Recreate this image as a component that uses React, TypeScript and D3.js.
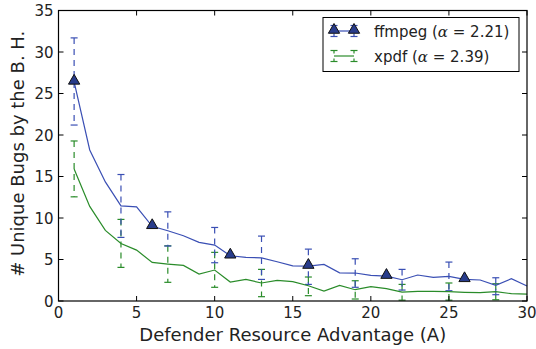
import React, { useRef, useEffect } from "react";
import * as d3 from "d3";

// x positions 1..30
const xs = d3.range(1, 31);

const ffmpegMean = [
  26.4, 18.2, 14.35, 11.46, 11.34, 9.0, 8.46, 7.86, 7.06, 6.74,
  5.45, 5.25, 5.2, 4.73, 4.23, 4.21, 4.41, 3.4, 3.37, 3.09,
  3.0, 2.56, 3.13, 2.85, 2.97, 2.61, 2.53, 1.89, 2.68, 1.8,
];
const xpdfMean = [
  15.9, 11.4, 8.5, 6.93, 6.13, 4.65, 4.45, 4.29, 3.25, 3.73,
  2.29, 2.6, 2.17, 2.49, 2.33, 1.84, 1.2, 1.89, 1.36, 1.72,
  1.48, 1.08, 1.17, 1.17, 1.12, 1.05, 1.0, 1.12, 0.88, 0.84,
];

// error bars at every third point
const errX = [1, 4, 7, 10, 13, 16, 19, 22, 25, 28];
const ffmpegLow = [21.2, 7.66, 6.62, 4.61, 2.6, 2.0, 1.65, 1.32, 1.24, 0.76];
const ffmpegHigh = [31.7, 15.24, 10.74, 8.86, 7.82, 6.25, 5.09, 3.81, 4.69, 2.8];
const xpdfLow = [12.55, 4.05, 2.25, 1.65, 0.52, 0.64, 0.24, 0.1, 0.1, 0.15];
const xpdfHigh = [19.28, 9.83, 6.65, 5.86, 3.81, 2.89, 2.44, 2.0, 2.17, 2.08];

const markerX = [1, 6, 11, 16, 21, 26];

const xTicks = [0, 5, 10, 15, 20, 25, 30];
const yTicks = [0, 5, 10, 15, 20, 25, 30, 35];

const BLUE = "#3a4fb4";
const NAVY = "#283c8c";
const GREEN = "#2a8c2a";

const App: React.FC = () => {
  const svgRef = useRef<SVGSVGElement | null>(null);

  useEffect(() => {
    if (!svgRef.current) return;
    const svg = d3.select(svgRef.current);
    svg.selectAll("*").remove();

    const left = 58.5, right = 527, top = 10.5, bottom = 301;
    const x = d3.scaleLinear().domain([0, 30]).range([left, right]);
    const y = d3.scaleLinear().domain([0, 35]).range([bottom, top]);
    const font = "DejaVu Sans, sans-serif";

    const line = d3.line<number>().x((_, i) => x(xs[i])).y((d) => y(d));

    const g = svg.append("g");

    const drawErr = (low: number[], high: number[], color: string) => {
      errX.forEach((xv, i) => {
        const px = x(xv);
        g.append("line")
          .attr("x1", px).attr("x2", px)
          .attr("y1", y(high[i])).attr("y2", y(low[i]))
          .attr("stroke", color).attr("stroke-width", 1.2)
          .attr("stroke-dasharray", "6,5");
        [low[i], high[i]].forEach((v) => {
          g.append("line")
            .attr("x1", px - 3.5).attr("x2", px + 3.5)
            .attr("y1", y(v)).attr("y2", y(v))
            .attr("stroke", color).attr("stroke-width", 1.2);
        });
      });
    };

    drawErr(xpdfLow, xpdfHigh, GREEN);
    drawErr(ffmpegLow, ffmpegHigh, BLUE);

    g.append("path").attr("d", line(xpdfMean)!)
      .attr("fill", "none").attr("stroke", GREEN).attr("stroke-width", 1.2);
    g.append("path").attr("d", line(ffmpegMean)!)
      .attr("fill", "none").attr("stroke", BLUE).attr("stroke-width", 1.2);

    const tri = d3.symbol().type(d3.symbolTriangle).size(55);
    markerX.forEach((xv) => {
      g.append("path")
        .attr("d", tri()!)
        .attr("transform", `translate(${x(xv)},${y(ffmpegMean[xv - 1]) - 1})`)
        .attr("fill", NAVY).attr("stroke", "#111").attr("stroke-width", 1);
    });

    // frame
    svg.append("rect")
      .attr("x", left).attr("y", top)
      .attr("width", right - left).attr("height", bottom - top)
      .attr("fill", "none").attr("stroke", "#000").attr("stroke-width", 1.2);

    // ticks (inward, all sides)
    const tl = 5;
    xTicks.forEach((t) => {
      const px = x(t);
      svg.append("line").attr("x1", px).attr("x2", px).attr("y1", bottom).attr("y2", bottom - tl).attr("stroke", "#000");
      svg.append("line").attr("x1", px).attr("x2", px).attr("y1", top).attr("y2", top + tl).attr("stroke", "#000");
      svg.append("text").attr("x", px).attr("y", bottom + 17)
        .attr("text-anchor", "middle").attr("font-family", font).attr("font-size", 15)
        .attr("fill", "#222").text(t);
    });
    yTicks.forEach((t) => {
      const py = y(t);
      svg.append("line").attr("x1", left).attr("x2", left + tl).attr("y1", py).attr("y2", py).attr("stroke", "#000");
      svg.append("line").attr("x1", right).attr("x2", right - tl).attr("y1", py).attr("y2", py).attr("stroke", "#000");
      svg.append("text").attr("x", left - 5).attr("y", py + 5.5)
        .attr("text-anchor", "end").attr("font-family", font).attr("font-size", 15)
        .attr("fill", "#222").text(t);
    });

    svg.append("text")
      .attr("x", (left + right) / 2).attr("y", 341)
      .attr("text-anchor", "middle").attr("font-family", font).attr("font-size", 18)
      .attr("fill", "#222").text("Defender Resource Advantage (A)");
    svg.append("text")
      .attr("transform", `translate(24,${(top + bottom) / 2 - 2}) rotate(-90)`)
      .attr("text-anchor", "middle").attr("font-family", font).attr("font-size", 18)
      .attr("fill", "#222").text("# Unique Bugs by the B. H.");

    // legend
    const lg = svg.append("g");
    lg.append("rect").attr("x", 323).attr("y", 17.5).attr("width", 196).attr("height", 54)
      .attr("fill", "#fff").attr("stroke", "#000").attr("stroke-width", 1);
    const entry = (cy: number, color: string, markers: boolean, label: string, alpha: string) => {
      const xa = 334, xb = 354;
      lg.append("line").attr("x1", xa).attr("x2", xb).attr("y1", cy).attr("y2", cy)
        .attr("stroke", color).attr("stroke-width", 1.2);
      [xa, xb].forEach((px) => {
        lg.append("line").attr("x1", px).attr("x2", px).attr("y1", cy - 5.5).attr("y2", cy + 5.5)
          .attr("stroke", color).attr("stroke-width", 1.2).attr("stroke-dasharray", "3,5");
        [cy - 5.5, cy + 5.5].forEach((cyy) => {
          lg.append("line").attr("x1", px - 3.5).attr("x2", px + 3.5).attr("y1", cyy).attr("y2", cyy)
            .attr("stroke", color).attr("stroke-width", 1.2);
        });
        if (markers) {
          lg.append("path").attr("d", tri()!)
            .attr("transform", `translate(${px},${cy - 1})`)
            .attr("fill", NAVY).attr("stroke", "#111").attr("stroke-width", 1);
        }
      });
      const t = lg.append("text").attr("x", 374).attr("y", cy + 5.5)
        .attr("font-family", font).attr("font-size", 15).attr("fill", "#222");
      t.append("tspan").text(label + " (");
      t.append("tspan").attr("font-family", "DejaVu Serif, serif").attr("font-style", "italic").text("α");
      t.append("tspan").text(` = ${alpha})`);
    };
    entry(31, BLUE, true, "ffmpeg", "2.21");
    entry(56, GREEN, false, "xpdf", "2.39");
  }, []);

  return (
    <svg ref={svgRef} width={536} height={349}
      style={{ position: "absolute", left: 0, top: 0, background: "#fff" }} />
  );
};

export default App;
